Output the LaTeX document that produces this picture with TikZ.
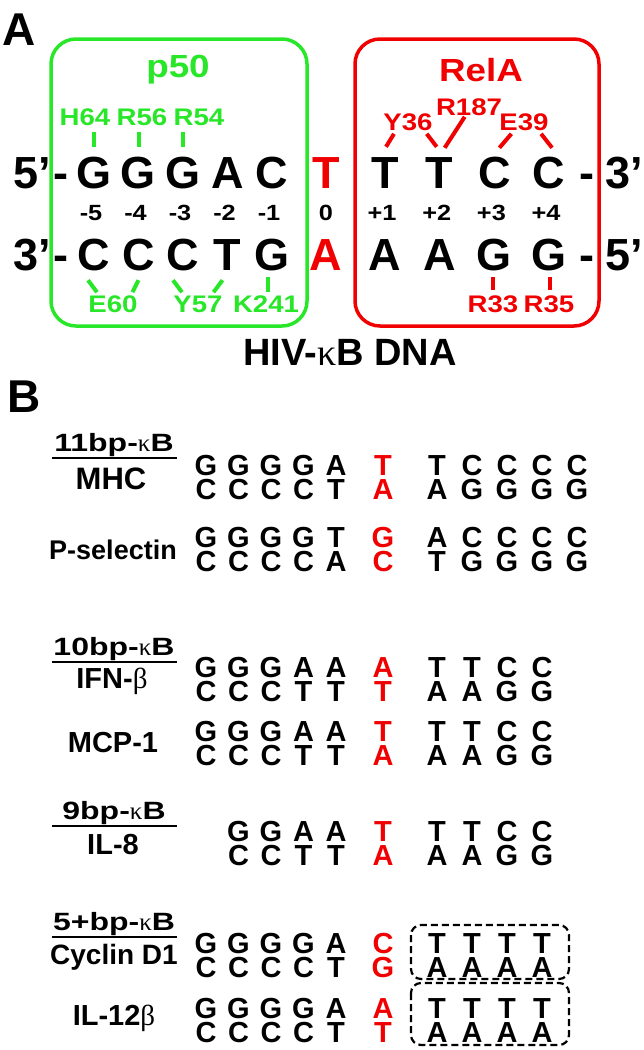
\documentclass[tikz,border=0pt]{standalone}
\usepackage{fontspec}
\setmainfont{Liberation Sans}
\newfontfamily\greekfont{Liberation Serif}
\newfontfamily\widefont[FakeStretch=1.15]{Liberation Sans}
\newfontfamily\widerfont[FakeStretch=1.28]{Liberation Sans}
\usetikzlibrary{calc}

\definecolor{pgreen}{RGB}{40,230,40}
\definecolor{rred}{RGB}{240,0,0}
\newcommand{\kb}{{\greekfont\mdseries κ}B}
\newcommand{\gbeta}{{\greekfont\mdseries β}}

% one paired stretch of panel B: name, y, left pairs, centre pair, right pairs
\newcommand{\dnarow}[5]{%
  \foreach \c/\t/\b in {#3} {
    \node[snt] (#1-l\c-t) at ({206+32.5*(\c-1)},#2) {\t};
    \node[snt] (#1-l\c-b) at ({206+32.5*(\c-1)},#2+24) {\b};
  }
  \foreach \t/\b in {#4} {
    \node[snt, rred] (#1-c-t) at (383,#2) {\t};
    \node[snt, rred] (#1-c-b) at (383,#2+24) {\b};
  }
  \foreach \c/\t/\b in {#5} {
    \node[snt] (#1-r\c-t) at ({437+35*(\c-1)},#2) {\t};
    \node[snt] (#1-r\c-b) at ({437+35*(\c-1)},#2+24) {\b};
  }%
}

\tikzset{
  nt/.style={font=\fontsize{45}{45}\selectfont\bfseries, inner sep=0pt, text height=32pt, text depth=0pt},
  num/.style={font=\widefont\fontsize{22}{22}\selectfont\bfseries, inner sep=0pt},
  res/.style={font=\widefont\fontsize{24}{24}\selectfont\bfseries, inner sep=0pt},
  gtick/.style={pgreen, line width=4pt},
  rtick/.style={rred, line width=4pt},
  boxline/.style={line width=3.5pt, rounded corners=25pt},
  snt/.style={font=\fontsize{29}{29}\selectfont\bfseries, inner sep=0pt, text height=20.8pt, text depth=0pt},
  family/.style={font=\widerfont\fontsize{25}{25}\selectfont\bfseries, inner sep=0pt, anchor=base},
  gene/.style={font=\fontsize{29}{29}\selectfont\bfseries, inner sep=0pt},
  corebox/.style={line width=2.2pt, rounded corners=10pt, dash pattern=on 7pt off 4pt},
}

\begin{document}
\begin{tikzpicture}[x=1pt, y=-1pt]
    \useasboundingbox (0,0) rectangle (644,1050);

    % Painel A
    \node[font=\fontsize{46}{46}\selectfont\bfseries, inner sep=0pt, anchor=base west] (panelA) at (2,45) {A};

    % Caixas p50 e RelA
    \draw[boxline, pgreen] (51,39) rectangle (307,326);
    \draw[boxline, rred] (355,39) rectangle (599,326);
    \node[font=\widefont\fontsize{32}{32}\selectfont\bfseries, pgreen, inner sep=0pt] (p50) at (178,70) {p50};
    \node[font=\widefont\fontsize{32}{32}\selectfont\bfseries, rred, inner sep=0pt] (rela) at (481,70) {RelA};

    % Fitas
    \node[nt] (end5) at (32,172) {5’};
    \node[nt] (dash5) at (61,172) {-};
    \node[nt] (end3) at (32,254) {3’};
    \node[nt] (dash3) at (61,254) {-};
    \foreach \t/\b [count=\i] in {G/C,G/C,G/C,A/T,C/G} {
        \node[nt] (tL\i) at ({94+44.5*(\i-1)},172) {\t};
        \node[nt] (bL\i) at ({94+44.5*(\i-1)},254) {\b};
    }
    \node[nt, rred] (tC) at (326,172) {T};
    \node[nt, rred] (bC) at (326,254) {A};
    \foreach \t/\b [count=\i] in {T/A,T/A,C/G,C/G} {
        \node[nt] (tR\i) at ({385+54.7*(\i-1)},172) {\t};
        \node[nt] (bR\i) at ({385+54.7*(\i-1)},254) {\b};
    }
    \node[nt] (dashR3) at (587,172) {-};
    \node[nt] (endR3) at (624,172) {3’};
    \node[nt] (dashR5) at (587,254) {-};
    \node[nt] (endR5) at (624,254) {5’};

    % Posicoes
    \foreach \n [count=\i] in {-5,-4,-3,-2,-1} {
        \node[num] (nL\i) at ({91+44.5*(\i-1)},213) {\n};
    }
    \node[num] (n0) at (326,213) {0};
    \foreach \n [count=\i] in {+1,+2,+3,+4} {
        \node[num] (nR\i) at ({382+54.7*(\i-1)},213) {\n};
    }

    % Residuos p50
    \node[res, pgreen] (h64) at (85,117) {H64};
    \node[res, pgreen] (r56) at (142,117) {R56};
    \node[res, pgreen] (r54) at (199,117) {R54};
    \foreach \i in {1,2,3} {
        \draw[gtick] (tL\i.north) ++(0,-9) -- ++(0,-15);
    }
    \node[res, pgreen] (e60) at (113,304) {E60};
    \node[res, pgreen] (y57) at (198,304) {Y57};
    \node[res, pgreen] (k241) at (266,304) {K241};
    \draw[gtick] (bL1.south) ++(-6,10) -- ++(9,12);
    \draw[gtick] (bL2.south) ++(0,10) -- ++(-6,12);
    \draw[gtick] (bL3.south) ++(-10,10) -- ++(9,12);
    \draw[gtick] (bL4.south) ++(-5,10) -- ++(-9,12);
    \draw[gtick] (bL5.south) ++(-4,7) -- ++(0,15);

    % Residuos RelA
    \node[res, rred] (y36) at (408,122) {Y36};
    \node[res, rred] (r187) at (469,107) {R187};
    \node[res, rred] (e39) at (524,122) {E39};
    \draw[rtick] (tR1.north) ++(1,-9) -- ++(8,-13);
    \draw[rtick] (tR2.north) ++(-3,-9) -- ++(-10,-13);
    \draw[rtick] (tR2.north) ++(5,-8) -- ++(20,-31);
    \draw[rtick] (tR3.north) ++(5,-8) -- ++(12,-14);
    \draw[rtick] (tR4.north) ++(3,-8) -- ++(-11,-14);
    \node[res, rred] (r33) at (493,304) {R33};
    \node[res, rred] (r35) at (549,304) {R35};
    \draw[rtick] (bR3.south) ++(-1,7) -- ++(0,13);
    \draw[rtick] (bR4.south) ++(1,7) -- ++(0,13);

    \node[font=\fontsize{38}{38}\selectfont\bfseries, inner sep=0pt] (hiv) at (350,352) {HIV-\kb\ DNA};

    % Painel B
    \node[font=\fontsize{46}{46}\selectfont\bfseries, inner sep=0pt, anchor=base west] (panelB) at (7,412) {B};

    % Classes de sitios
    \node[family] (c11) at (114,451) {11bp-\kb};
    \draw[line width=2.5pt] (52,458) -- (177,458);
    \node[gene, font=\fontsize{31}{31}\selectfont\bfseries] (mhc) at (111,479) {MHC};
    \node[gene, font=\fontsize{27}{27}\selectfont\bfseries] (psel) at (113,550) {P-selectin};
    \node[family] (c10) at (114,655) {10bp-\kb};
    \draw[line width=2.5pt] (52,662) -- (177,662);
    \node[gene] (ifn) at (112,681) {IFN-\gbeta};
    \node[gene] (mcp) at (113,743) {MCP-1};
    \node[family] (c9) at (114,819) {9bp-\kb};
    \draw[line width=2.5pt] (52,826) -- (177,826);
    \node[gene] (il8) at (113,845) {IL-8};
    \node[family] (c5) at (114,930) {5+bp-\kb};
    \draw[line width=2.5pt] (52,937) -- (177,937);
    \node[gene, font=\fontsize{28}{28}\selectfont\bfseries] (cyc) at (114,957) {Cyclin D1};
    \node[gene] (il12) at (114,1018) {IL-12\gbeta};

    % Sequencias
    \dnarow{mhc}{465}{1/G/C,2/G/C,3/G/C,4/G/C,5/A/T}{T/A}{1/T/A,2/C/G,3/C/G,4/C/G,5/C/G}
    \dnarow{psel}{537}{1/G/C,2/G/C,3/G/C,4/G/C,5/T/A}{G/C}{1/A/T,2/C/G,3/C/G,4/C/G,5/C/G}
    \dnarow{ifn}{667}{1/G/C,2/G/C,3/G/C,4/A/T,5/A/T}{A/T}{1/T/A,2/T/A,3/C/G,4/C/G}
    \dnarow{mcp}{731}{1/G/C,2/G/C,3/G/C,4/A/T,5/A/T}{T/A}{1/T/A,2/T/A,3/C/G,4/C/G}
    \dnarow{ileight}{831}{2/G/C,3/G/C,4/A/T,5/A/T}{T/A}{1/T/A,2/T/A,3/C/G,4/C/G}
    \dnarow{cyc}{943}{1/G/C,2/G/C,3/G/C,4/G/C,5/A/T}{C/G}{1/T/A,2/T/A,3/T/A,4/T/A}
    \dnarow{iltw}{1008}{1/G/C,2/G/C,3/G/C,4/G/C,5/A/T}{A/T}{1/T/A,2/T/A,3/T/A,4/T/A}

    % Meio sitio
    \draw[corebox] (411,925) rectangle (569,979);
    \draw[corebox] (411,983) rectangle (569,1045);
\end{tikzpicture}
\end{document}
